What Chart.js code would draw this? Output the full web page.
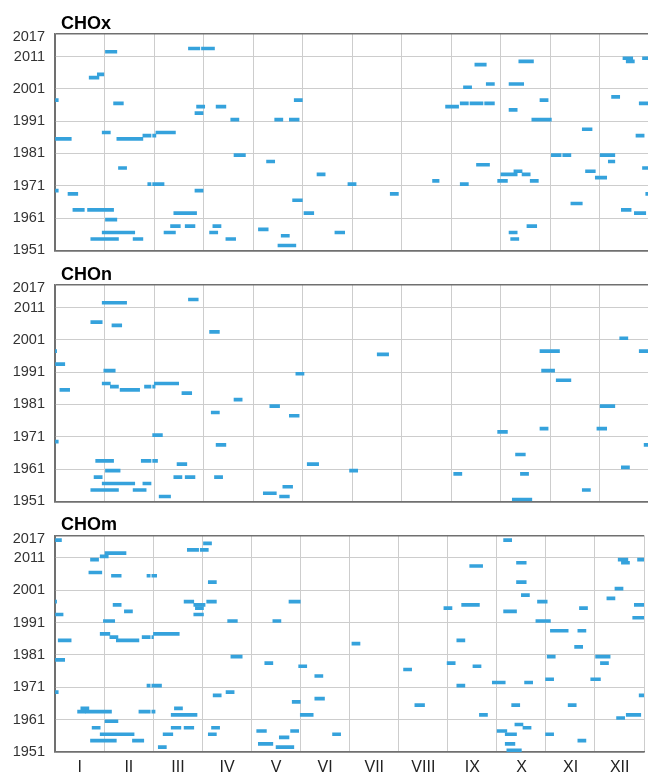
<!DOCTYPE html>
<html><head><meta charset="utf-8">
<script src="https://cdn.jsdelivr.net/npm/chart.js@4/dist/chart.umd.min.js"></script>
<style>
html,body{margin:0;padding:0;background:#fff;overflow:hidden;width:648px;height:775px}
#wrap{position:relative;width:650px;height:775px;overflow:hidden}
canvas{position:absolute;left:0}
</style></head><body>
<div id="wrap">
<canvas id="c1" width="650" height="269" style="top:0px"></canvas>
<canvas id="c2" width="650" height="269" style="top:251px"></canvas>
<canvas id="c3" width="650" height="273" style="top:502px"></canvas>
</div>
<script>
// ---- tick labels ----
const monthLabels = ['I','II','III','IV','V','VI','VII','VIII','IX','X','XI','XII'];
const yTickValues = [1951,1961,1971,1981,1991,2001,2011,2017];
const yMin = 1951, yMax = 2018;
const panelTitles = ['CHOx','CHOn','CHOm'];

// ---- CHOx: year, start day, end day ----
const choxYear  = [2013,2013,2012,2010,2010,2009,2009,2008,2005,2004,
                   2002,2002,2001,1998,1997,1997,1997,1996,1996,1996,
                   1996,1996,1995,1995,1995,1994,1993,1991,1991,1991,
                   1991,1988,1987,1987,1986,1986,1986,1985,1985,1980,
                   1980,1980,1980,1978,1978,1977,1976,1976,1975,1975,
                   1974,1974,1974,1973,1972,1972,1972,1971,1971,1971,
                   1971,1969,1969,1968,1968,1968,1966,1965,1963,1963,
                   1963,1962,1962,1962,1960,1958,1958,1958,1958,1957,
                   1956,1956,1956,1956,1956,1955,1954,1954,1954,1954,
                   1952];
const choxStart = [82,90,31,349,361,285,351,258,26,21,
                   265,279,251,342,0,147,298,36,249,255,
                   264,359,87,99,240,279,86,108,135,144,
                   293,324,29,62,54,60,357,0,38,110,
                   305,312,335,130,340,259,39,361,282,326,
                   161,274,287,332,232,272,292,57,60,180,
                   249,0,86,8,206,363,146,317,11,20,
                   348,73,153,356,31,71,80,97,290,125,
                   29,67,95,172,279,139,22,48,105,280,
                   137];
const choxEnd   = [89,98,38,355,365,294,356,265,30,27,
                   270,288,256,347,2,152,303,42,254,263,
                   270,365,92,105,248,284,91,113,140,150,
                   305,330,34,74,59,62,362,10,54,117,
                   311,317,344,135,344,267,44,365,287,332,
                   166,284,292,339,236,278,297,59,67,185,
                   254,2,91,14,211,365,152,324,18,36,
                   354,87,159,363,38,77,86,102,296,131,
                   49,74,100,178,284,144,39,54,111,285,
                   148];

// ---- CHOn ----
const chonYear  = [2013,2012,2006,2005,2003,2001,1997,1997,1997,1996,
                   1993,1991,1991,1990,1988,1987,1987,1986,1986,1986,
                   1985,1985,1984,1982,1980,1980,1978,1977,1973,1973,
                   1972,1971,1969,1968,1968,1965,1963,1963,1963,1962,
                   1962,1961,1960,1960,1959,1959,1958,1958,1958,1958,
                   1956,1956,1955,1954,1954,1954,1953,1952,1952,1951];
const chonStart = [82,29,22,35,95,347,0,298,359,198,
                   0,30,299,148,308,29,61,34,55,60,
                   3,40,78,110,132,335,96,144,298,333,
                   272,60,0,99,362,283,25,53,60,75,
                   155,348,31,181,245,286,24,73,80,98,
                   29,54,140,22,48,324,128,64,138,281];
const chonEnd   = [88,44,29,41,101,352,1,310,365,205,
                   6,37,307,153,317,34,76,39,59,61.5,
                   9,52,84,115,138,344,101,150,303,339,
                   278,66,2,105,365,289,36,59,63,81,
                   162,353,40,186,250,291,29,78,86,103,
                   49,59,146,39,56,329,136,71,144,293];

// ---- CHOm ----
const chomYear  = [2016,2016,2015,2013,2013,2012,2011,2010,2010,2010,
                   2009,2009,2008,2006,2005,2005,2005,2003,2003,2001,
                   1999,1998,1997,1997,1997,1997,1997,1996,1996,1996,
                   1996,1995,1995,1995,1994,1994,1993,1993,1992,1991,
                   1991,1991,1991,1988,1988,1987,1987,1986,1986,1986,
                   1985,1985,1985,1984,1983,1980,1980,1980,1979,1978,
                   1978,1978,1977,1977,1976,1974,1973,1973,1972,1972,
                   1971,1971,1971,1969,1969,1968,1968,1967,1966,1965,
                   1965,1965,1964,1964,1963,1963,1963,1963,1962,1962,
                   1962,1962,1961,1960,1959,1958,1958,1958,1958,1958,
                   1957,1957,1957,1956,1956,1956,1956,1956,1956,1955,
                   1954,1954,1954,1953,1953,1952,1952,1951];
const chomStart = [0,278,92,82,90,31,28,22,349,361,
                   286,351,257,21,35,57,60,95,286,347,
                   289,342,0,80,94,145,299,36,86,252,
                   359,87,241,325,43,278,0,86,358,30,
                   107,135,298,307,324,28,61,34,54,60,
                   2,38,249,184,322,109,305,335,0,130,
                   243,338,151,259,216,161,304,332,271,291,
                   57,60,249,0,106,98,362,161,147,223,
                   283,318,16,74,14,19,52,60,72,152,
                   263,354,348,31,285,23,72,80,97,290,
                   125,146,274,28,67,95,172,279,304,139,
                   22,48,324,126,279,64,137,280];
const chomEnd   = [4,283,97,89,95,44,33,27,355,365,
                   292,356,265,29,41,59,63,100,292,352,
                   294,347,1,86,100,152,305,41,93,263,
                   365,92,246,330,48,286,5,92,365,37,
                   113,140,307,318,329,34,77,39,59,61,
                   10,52,254,189,327,116,310,344,6,135,
                   248,343,156,264,221,166,309,338,279,296,
                   59,66,254,2,111,103,365,167,152,229,
                   288,323,21,79,19,35,59,62,88,160,
                   268,363,353,39,290,28,78,86,102,295,
                   131,151,280,49,73,100,177,286,309,145,
                   38,55,329,135,285,69,148,289];

const barColor = '#35a2dc';
const gridColor = '#cdcdcd';
const frameColor = '#707070';
Chart.defaults.font.family = '"Liberation Sans", Arial, sans-serif';

const panelTitle = {
  id: 'panelTitle',
  afterDraw(chart, args, opts) {
    const {ctx, chartArea} = chart;
    ctx.save();
    ctx.font = 'bold 18px "Liberation Sans", Arial, sans-serif';
    ctx.fillStyle = '#000';
    ctx.textBaseline = 'alphabetic';
    ctx.textAlign = 'left';
    ctx.fillText(opts.text, chartArea.left + 6, chartArea.top - 5);
    ctx.restore();
  }
};

function makePanel(id, title, years, starts, ends, showMonths, padTop, padBottom, xHeight) {
  const data = years.map((yr, i) => ({ y: yr + 0.5, x: [starts[i], ends[i]] }));
  return new Chart(document.getElementById(id), {
    type: 'bar',
    data: { datasets: [{ data, backgroundColor: barColor, borderWidth: 0, barThickness: 3, grouped: false }] },
    plugins: [panelTitle],
    options: {
      indexAxis: 'y',
      responsive: false,
      animation: false,
      devicePixelRatio: 1,
      events: [],
      layout: { padding: { top: padTop, bottom: padBottom, left: 0, right: 1 } },
      plugins: { legend: { display: false }, tooltip: { enabled: false }, panelTitle: { text: title } },
      scales: {
        x: {
          type: 'linear', min: 0, max: 365, offset: false,
          afterBuildTicks: s => { s.ticks = monthLabels.map((m, i) => ({ value: i * 365 / 12 })).concat([{ value: 365 }]); },
          afterFit: s => { s.height = xHeight; },
          grid: { drawTicks: false, offset: false, color: c => (c.tick && c.tick.value === 0) ? frameColor : gridColor, lineWidth: 1 },
          border: { display: true, color: frameColor, width: 1.5 },
          ticks: { display: showMonths, padding: 6, color: '#222', font: { size: 16 }, labelOffset: 24.75, maxRotation: 0, autoSkip: false,
                   callback: (v, i) => i < 12 ? monthLabels[i] : '' }
        },
        y: {
          type: 'linear', min: yMin, max: yMax, offset: false,
          afterBuildTicks: s => { s.ticks = yTickValues.concat([yMax]).map(v => ({ value: v })); },
          afterFit: s => { s.width = 55; },
          grid: { drawTicks: false, offset: false,
                  color: c => { const v = c.tick ? c.tick.value : null; if (v === 2017) return 'rgba(0,0,0,0)'; if (v === yMax || v === yMin) return frameColor; return gridColor; },
                  lineWidth: c => { const v = c.tick ? c.tick.value : null; return (v === yMax || v === yMin) ? 1.5 : 1; } },
          border: { display: true, color: frameColor, width: 1.5 },
          ticks: { padding: 10, color: '#333', font: { size: 14.5 }, labelOffset: 0, autoSkip: false,
                   callback: v => v === yMax ? '' : String(v) }
        }
      }
    }
  });
}

makePanel('c1', panelTitles[0], choxYear, choxStart, choxEnd, false, 34, 0, 18.3);
makePanel('c2', panelTitles[1], chonYear, chonStart, chonEnd, false, 34, 0, 18.3);
makePanel('c3', panelTitles[2], chomYear, chomStart, chomEnd, true, 33.3, 0, 23);
</script>
</body></html>
